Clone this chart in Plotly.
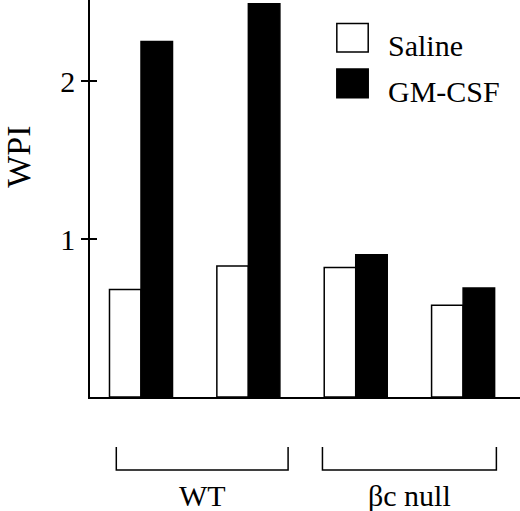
import plotly.graph_objs as go

# -- datos
categorias = ['WT 1', 'WT 2', 'bc null 1', 'bc null 2']
saline = [0.68, 0.83, 0.82, 0.58]
gm_csf = [2.25, 2.49, 0.90, 0.69]
series = ['Saline', 'GM-CSF']
grupos = ['WT', 'βc null']
grupos_idx = [(0, 1), (2, 3)]
y_ticks = [1, 2]

fuente = 'Liberation Serif'
negro = 'black'

fig = go.Figure()

fig.add_trace(go.Bar(x=list(range(len(categorias))), y=saline, name=series[0],
                     marker=dict(color='white', line=dict(color=negro, width=1.5))))
fig.add_trace(go.Bar(x=list(range(len(categorias))), y=gm_csf, name=series[1],
                     marker=dict(color=negro, line=dict(color=negro, width=1.5))))

# -- corchetes de grupos debajo del eje x (holguras a cada lado del grupo)
holguras = [(0.23, 0.37), (0.31, 0.31)]
formas = []
notas = []
for nombre, (i0, i1), (h0, h1) in zip(grupos, grupos_idx, holguras):
    x0 = i0 - h0
    x1 = i1 + h1
    formas.append(dict(type='path', xref='x', yref='paper',
                       path=f'M {x0},-0.126 L {x0},-0.184 L {x1},-0.184 L {x1},-0.126',
                       line=dict(color=negro, width=1.5)))
    notas.append(dict(x=(x0 + x1) / 2, y=-0.247, xref='x', yref='paper', text=nombre,
                      showarrow=False, yanchor='middle', font=dict(size=30)))

# -- leyenda dibujada a mano (cuadros grandes)
ley_y = [0.905, 0.79]
for nombre, yy, relleno in zip(series, ley_y, ['white', negro]):
    formas.append(dict(type='rect', xref='paper', yref='paper',
                       x0=0.574, x1=0.647, y0=yy - 0.036, y1=yy + 0.036,
                       fillcolor=relleno, line=dict(color=negro, width=1.5)))
    notas.append(dict(x=0.688, y=yy - 0.02, xref='paper', yref='paper', text=nombre,
                      showarrow=False, xanchor='left', yanchor='middle', font=dict(size=30)))

# -- titulo del eje y
notas.append(dict(x=-0.165, y=0.605, xref='paper', yref='paper', text='WPI', textangle=-90,
                  showarrow=False, xanchor='center', yanchor='middle', font=dict(size=34)))

fig.update_layout(
    width=520, height=511,
    margin=dict(l=90, r=0, t=0, b=114),
    paper_bgcolor='white', plot_bgcolor='white',
    font=dict(family=fuente, color=negro, size=30),
    barmode='group', bargap=0.413, bargroupgap=0,
    showlegend=False,
    xaxis=dict(range=[-0.475, 3.53], showline=True, linecolor=negro, linewidth=1.5,
               showticklabels=False, ticks='', showgrid=False, zeroline=False),
    yaxis=dict(range=[0, 2.513], showline=True, linecolor=negro, linewidth=1.5,
               tickvals=y_ticks, ticks='outside', ticklen=7, tickwidth=1.5, tickcolor=negro,
               showgrid=False, zeroline=False, ticklabelstandoff=0),
    yaxis2=dict(range=[0, 2.513], overlaying='y', side='left', tickvals=y_ticks,
                ticks='inside', ticklen=7, tickwidth=1.5, tickcolor=negro,
                showticklabels=False, showgrid=False, zeroline=False, showline=False),
    shapes=formas,
    annotations=notas,
)

# trazo invisible para activar el segundo eje y
fig.add_trace(go.Scatter(x=[0], y=[0], yaxis='y2', mode='markers',
                         marker=dict(opacity=0), hoverinfo='skip', showlegend=False))

# quitar el margen del body para que la figura quede en la esquina
fig.write_html("out.html", config={'displayModeBar': False},
               post_script="document.body.style.margin='0';")
